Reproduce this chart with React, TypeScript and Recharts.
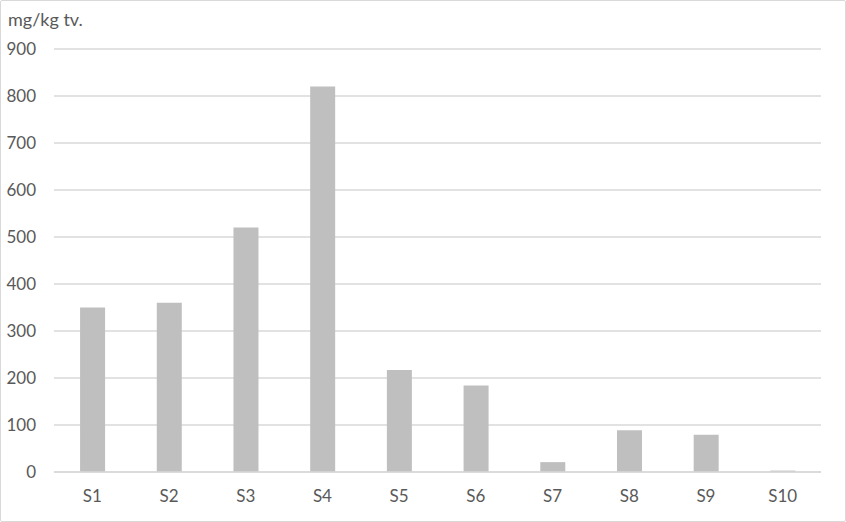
import { Bar, BarChart, CartesianGrid, XAxis, YAxis } from "recharts"

const stations = ["S1", "S2", "S3", "S4", "S5", "S6", "S7", "S8", "S9", "S10"]
const concentration = [350, 360, 520, 820, 217, 184, 21, 89, 79, 3]
const yTicks = [0, 100, 200, 300, 400, 500, 600, 700, 800, 900]

const chartData = stations.map((name, i) => ({ name, value: concentration[i] }))

const textColor = "#595959"
const gridColor = "#d9d9d9"

export default function App() {
  return (
    <div
      style={{
        position: "absolute",
        left: 0,
        top: 0,
        width: 846,
        height: 522,
        background: "#fff",
        fontFamily: "Lato, sans-serif",
      }}
    >
      <div
        style={{
          position: "absolute",
          left: 0,
          top: 0,
          width: 844,
          height: 520,
          border: `1px solid ${gridColor}`,
          borderRadius: 2,
        }}
      />
      <div
        style={{
          position: "absolute",
          left: 8,
          top: 8,
          fontSize: 18,
          color: textColor,
        }}
      >
        mg/kg tv.
      </div>
      <BarChart
        width={846}
        height={522}
        data={chartData}
        margin={{ top: 49, right: 25, left: 0, bottom: 20 }}
        barCategoryGap="34%"
      >
        <CartesianGrid vertical={false} stroke={gridColor} strokeWidth={1.5} />
        <XAxis
          dataKey="name"
          height={30}
          axisLine={{ stroke: gridColor, strokeWidth: 1.5 }}
          tickLine={false}
          tickSize={0}
          tickMargin={18}
          tick={{ fill: textColor, fontSize: 17 }}
        />
        <YAxis
          width={54}
          domain={[0, 900]}
          ticks={yTicks}
          axisLine={false}
          tickLine={false}
          tickSize={0}
          tickMargin={18}
          tick={{ fill: textColor, fontSize: 17 }}
        />
        <Bar dataKey="value" fill="#bfbfbf" isAnimationActive={false} />
      </BarChart>
    </div>
  )
}
